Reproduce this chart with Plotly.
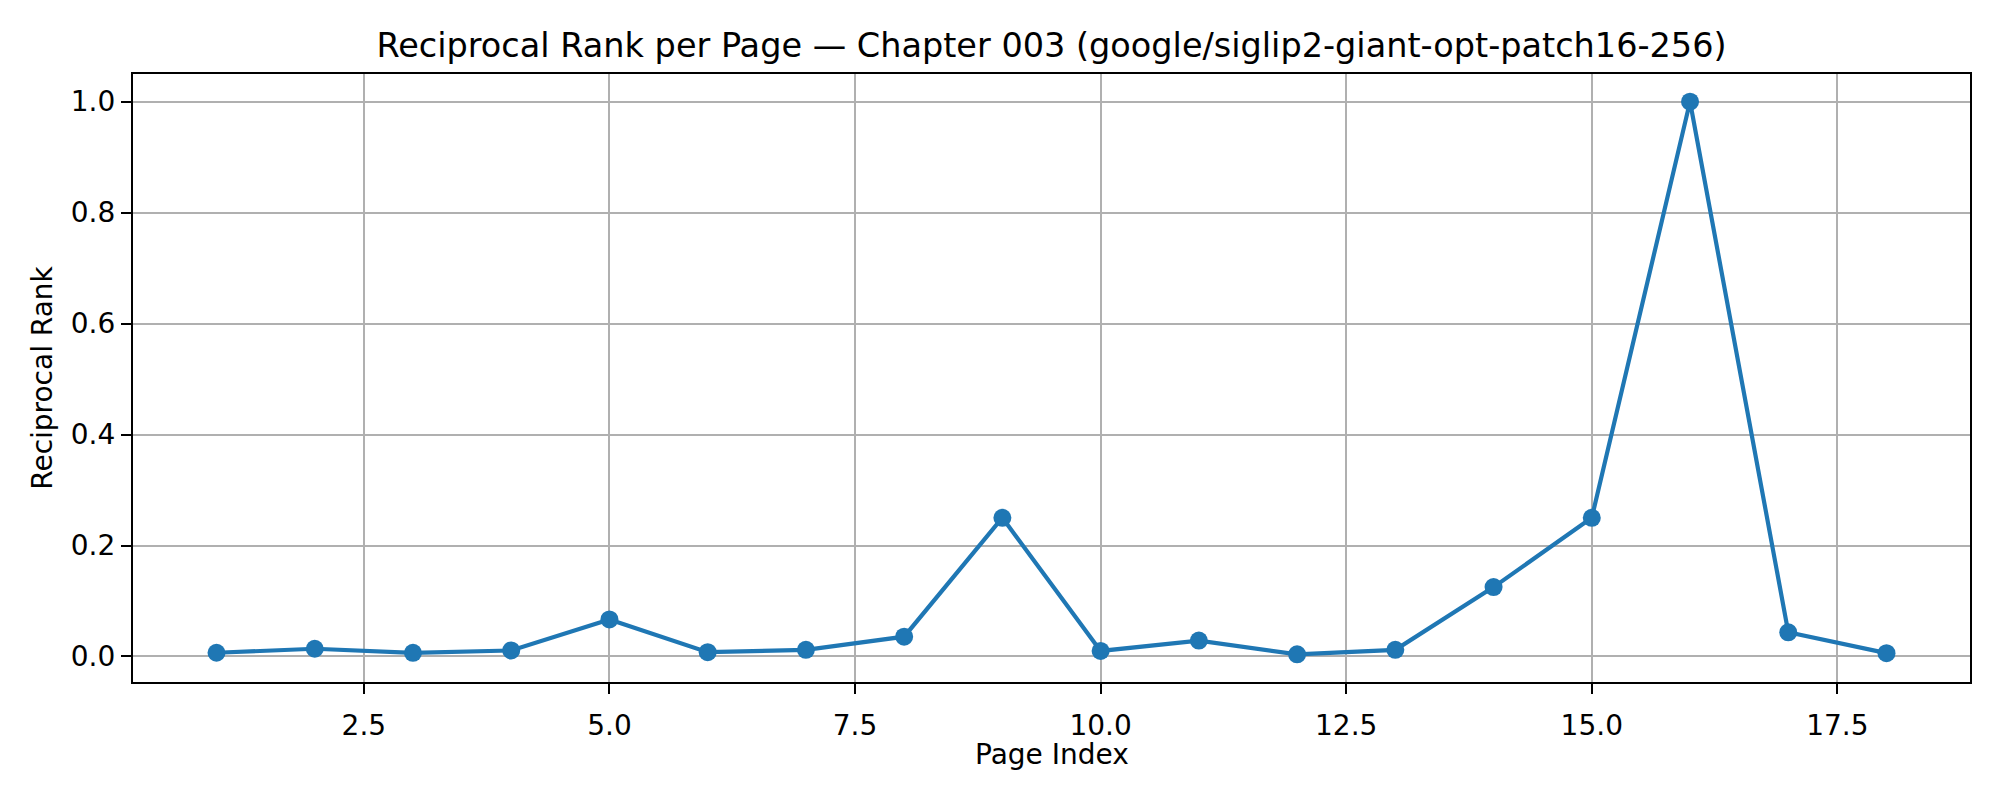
import plotly.graph_objects as go

# Reciprocal rank per page
page_index = list(range(1, 19))
reciprocal_rank = [0.0067, 0.0139, 0.0066, 0.0108, 0.0667, 0.0078, 0.0120, 0.0357, 0.25,
                   0.0100, 0.0286, 0.0039, 0.0120, 0.125, 0.25, 1.0, 0.0435, 0.0060]

x_ticks = [2.5, 5.0, 7.5, 10.0, 12.5, 15.0, 17.5]
y_ticks = [0.0, 0.2, 0.4, 0.6, 0.8, 1.0]

LINE_COLOR = "#1f77b4"
GRID_COLOR = "#b0b0b0"
FONT = "DejaVu Sans"

# page body adds ~8px offset, so margins are shifted to compensate
OFFSET = 8
MARGIN = dict(l=133 - OFFSET, r=30 + OFFSET, t=74 - OFFSET, b=118 + OFFSET)
PLOT_H = 800 - MARGIN["t"] - MARGIN["b"]

fig = go.Figure(
    go.Scatter(
        x=page_index,
        y=reciprocal_rank,
        mode="lines+markers",
        line=dict(color=LINE_COLOR, width=4.2),
        marker=dict(color=LINE_COLOR, size=18),
        showlegend=False,
    )
)

axis_common = dict(
    showline=True,
    linecolor="black",
    linewidth=2.2,
    mirror=True,
    showgrid=True,
    gridcolor=GRID_COLOR,
    gridwidth=2.2,
    ticks="outside",
    ticklen=10,
    tickwidth=2.2,
    tickcolor="black",
    tickfont=dict(family=FONT, size=28, color="black"),
    zeroline=False,
)

# x axis label placed as an annotation so it sits exactly like the reference
fig.add_annotation(
    text="Page Index",
    xref="paper", yref="paper",
    x=0.5, y=-(754 - 682) / PLOT_H,
    xanchor="center", yanchor="middle",
    showarrow=False,
    font=dict(family=FONT, size=28, color="black"),
)

fig.update_layout(
    width=2000,
    height=800,
    paper_bgcolor="white",
    plot_bgcolor="white",
    font=dict(family=FONT, color="black"),
    title=dict(
        text="Reciprocal Rank per Page — Chapter 003 (google/siglip2-giant-opt-patch16-256)",
        font=dict(family=FONT, size=33.5, color="black"),
        x=((133 + 1970) / 2 - OFFSET) / 2000,
        xanchor="center",
        y=1 - (45 - OFFSET) / 800,
        yanchor="middle",
    ),
    xaxis=dict(
        axis_common,
        range=[0.15, 18.85],
        tickmode="array",
        tickvals=x_ticks,
        ticktext=[f"{v:.1f}" for v in x_ticks],
        ticklabelstandoff=7,
    ),
    yaxis=dict(
        axis_common,
        range=[-0.046, 1.0498],
        tickmode="array",
        tickvals=y_ticks,
        ticktext=[f"{v:.1f}" for v in y_ticks],
        title=dict(text="Reciprocal Rank", font=dict(family=FONT, size=28, color="black"), standoff=10),
    ),
    margin=dict(MARGIN, autoexpand=False),
)

fig.write_html("out.html")
